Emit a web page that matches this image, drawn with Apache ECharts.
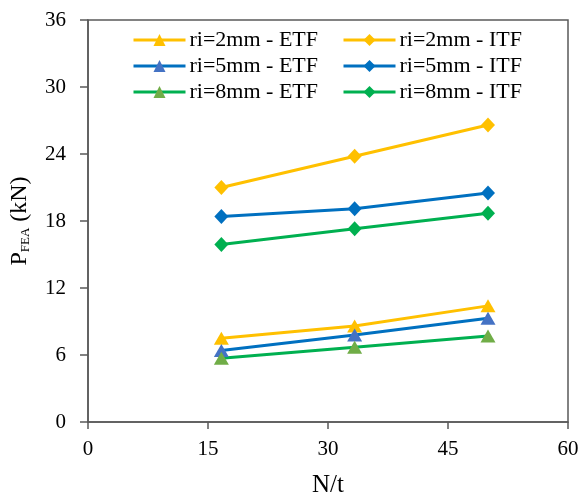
<!DOCTYPE html>
<html>
<head>
<meta charset="utf-8">
<script src="https://cdn.jsdelivr.net/npm/echarts@6/dist/echarts.min.js"></script>
<style>html,body{margin:0;padding:0;background:#fff;}#c{width:580px;height:498px;}</style>
</head>
<body>
<div id="c"></div>
<script>
// N/t values
var nt = [16.67, 33.33, 50];
// P_FEA (kN)
var etf2 = [7.5, 8.6, 10.4];
var itf2 = [21.0, 23.8, 26.6];
var etf5 = [6.4, 7.8, 9.3];
var itf5 = [18.4, 19.1, 20.5];
var etf8 = [5.7, 6.7, 7.7];
var itf8 = [15.9, 17.3, 18.7];
var names = ['ri=2mm - ETF', 'ri=2mm - ITF', 'ri=5mm - ETF', 'ri=5mm - ITF', 'ri=8mm - ETF', 'ri=8mm - ITF'];
var xTicks = [0, 15, 30, 45, 60];
var yTicks = [0, 6, 12, 18, 24, 30, 36];

var FONT = "'Liberation Serif', 'Times New Roman', serif";
var YEL = '#FFC000', BLU = '#0070C0', GRN = '#00B050';

function pts(vals) { return nt.map(function (x, i) { return [x, vals[i]]; }); }
function ser(name, vals, color, symbol, mcolor) {
  return {
    name: name, type: 'line', data: pts(vals),
    symbol: symbol, symbolSize: symbol === 'triangle' ? [15, 13] : [14, 15],
    lineStyle: { color: color, width: 3 },
    itemStyle: { color: mcolor || color },
    emphasis: { disabled: true }, animation: false, z: symbol === 'triangle' ? 3 : 2
  };
}
function leg(data, left) {
  return {
    data: data, orient: 'vertical', left: left, top: 29, padding: 0,
    itemWidth: 52, itemHeight: 15, itemGap: 4,
    lineStyle: { width: 3 },
    textStyle: { fontFamily: FONT, fontSize: 22, color: '#000', lineHeight: 22, padding: [0, 0, 0, -1] }
  };
}

var chart = echarts.init(document.getElementById('c'), null, { renderer: 'canvas' });
chart.setOption({
  backgroundColor: '#fff',
  animation: false,
  grid: { left: 88, right: 12, top: 20, bottom: 76, outerBoundsMode: 'none', containLabel: false,
    show: true, borderColor: '#595959', borderWidth: 1.5, backgroundColor: 'transparent' },
  legend: [ leg([names[0], names[2], names[4]], 132), leg([names[1], names[3], names[5]], 342) ],
  xAxis: {
    type: 'value', min: xTicks[0], max: xTicks[xTicks.length - 1], interval: 15,
    name: 'N/t', nameLocation: 'middle', nameGap: 51,
    nameTextStyle: { fontFamily: FONT, fontSize: 25, color: '#000' },
    axisLine: { show: true, lineStyle: { color: '#595959', width: 1.5 } },
    axisTick: { show: true, length: 7, inside: false, lineStyle: { color: '#595959', width: 1.5 } },
    axisLabel: { fontFamily: FONT, fontSize: 21, color: '#000', margin: 17 },
    splitLine: { show: false }
  },
  yAxis: {
    type: 'value', min: yTicks[0], max: yTicks[yTicks.length - 1], interval: 6,
    name: '{p|P}{s|FEA}{p| (kN)}', nameLocation: 'middle', nameRotate: 90, nameGap: 56,
    nameTextStyle: {
      fontFamily: FONT, color: '#000',
      rich: {
        p: { fontFamily: FONT, fontSize: 24, lineHeight: 24, color: '#000', verticalAlign: 'bottom' },
        s: { fontFamily: FONT, fontSize: 13, lineHeight: 10, color: '#000', verticalAlign: 'bottom' }
      }
    },
    axisLine: { show: true, lineStyle: { color: '#595959', width: 1.5 } },
    axisTick: { show: true, length: 8, inside: false, lineStyle: { color: '#595959', width: 1.5 } },
    axisLabel: { fontFamily: FONT, fontSize: 21, color: '#000', margin: 22 },
    splitLine: { show: false }
  },
  series: [
    ser(names[0], etf2, YEL, 'triangle', YEL),
    ser(names[1], itf2, YEL, 'diamond', YEL),
    ser(names[2], etf5, BLU, 'triangle', '#4472C4'),
    ser(names[3], itf5, BLU, 'diamond', BLU),
    ser(names[4], etf8, GRN, 'triangle', '#70AD47'),
    ser(names[5], itf8, GRN, 'diamond', GRN)
  ]
});
</script>
</body>
</html>
